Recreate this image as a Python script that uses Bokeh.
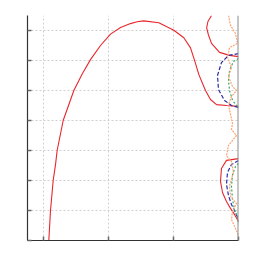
from bokeh.plotting import figure
from bokeh.models import Span, FixedTicker, Range1d
from bokeh.embed import file_html
from bokeh.resources import INLINE

# --- data ---
x_ticks = [0, 1, 2, 3]
y_ticks = [0, 1, 2, 3, 4, 5, 6, 7]

red_big_x = [0.082, 0.108, 0.149, 0.185, 0.21, 0.303, 0.467, 0.595, 0.723, 0.877, 1.031, 1.185, 1.338, 1.441,
             1.544, 1.774, 2.005, 2.159, 2.262, 2.323, 2.39, 2.492, 2.569, 2.662, 2.815, 3.0]
red_big_y = [0.0, 1.0, 2.0, 2.53, 3.0, 4.0, 5.0, 5.55, 6.03, 6.5, 6.88, 7.1, 7.23, 7.29,
             7.32, 7.26, 7.01, 6.76, 6.42, 6.01, 5.53, 5.0, 4.7, 4.53, 4.5, 4.47]

red_top_x = [2.585, 2.53, 2.51, 2.538, 2.585, 2.708, 2.862, 3.0]
red_top_y = [7.5, 7.3, 7.09, 6.85, 6.57, 6.27, 6.17, 6.13]

blue_up_x = [3.0, 2.846, 2.738, 2.677, 2.692, 2.785, 2.892, 3.0]
blue_up_y = [6.23, 6.17, 5.93, 5.5, 5.03, 4.67, 4.5, 4.43]

green_up_x = [3.0, 2.923, 2.862, 2.846, 2.862, 2.908, 3.0]
green_up_y = [6.07, 5.97, 5.67, 5.33, 5.0, 4.67, 4.43]

red_low_x = [3.0, 2.815, 2.738, 2.723, 2.754, 2.815, 2.877, 2.938, 3.0]
red_low_y = [2.73, 2.67, 2.4, 1.97, 1.6, 1.3, 1.07, 0.87, 0.63]

blue_low_x = [3.0, 2.892, 2.831, 2.815, 2.846, 2.892, 2.954, 3.0]
blue_low_y = [2.67, 2.53, 2.27, 1.87, 1.5, 1.2, 0.93, 0.7]

green_low_x = [3.0, 2.954, 2.908, 2.892, 2.908, 2.938, 2.985, 3.0]
green_low_y = [2.57, 2.47, 2.2, 1.8, 1.37, 1.03, 0.77, 0.6]

orange_x = [2.846, 2.877, 2.954, 2.985, 2.862, 2.831, 2.892, 2.846, 2.908, 2.969, 2.892, 2.846,
            2.877, 2.908, 2.892, 2.969, 2.846, 2.815, 2.892, 2.923, 2.862, 2.877, 2.969, 2.908,
            2.892, 2.954, 3.0]
orange_y = [7.5, 7.17, 6.9, 6.57, 6.43, 6.1, 5.77, 5.47, 5.13, 5.0, 4.8, 4.53,
            4.2, 3.9, 3.7, 3.5, 3.17, 2.83, 2.63, 2.27, 1.83, 1.47, 1.23, 0.97,
            0.7, 0.4, 0.17]

p = figure(width=248, height=250, output_backend="svg", toolbar_location=None,
           x_range=Range1d(-0.246, 3.0), y_range=Range1d(0, 7.5),
           min_border_left=27, min_border_right=10, min_border_top=15, min_border_bottom=10)
p.outline_line_color = None
p.background_fill_color = "white"

for ax in (p.xaxis, p.yaxis):
    ax.major_label_standoff = 0
    ax.major_tick_in = 4
    ax.major_tick_out = 0
    ax.minor_tick_in = 0
    ax.minor_tick_out = 0
    ax.axis_line_color = "#333333"
    ax.axis_line_width = 1.2
    ax.major_tick_line_color = "#666666"
    ax.major_tick_line_width = 1.5
p.xaxis.ticker = FixedTicker(ticks=x_ticks)
p.yaxis.ticker = FixedTicker(ticks=y_ticks)
p.xaxis.major_label_overrides = {t: "" for t in x_ticks}
p.yaxis.major_label_overrides = {t: "" for t in y_ticks}
p.xgrid.ticker = FixedTicker(ticks=x_ticks)
p.ygrid.ticker = FixedTicker(ticks=y_ticks)
for g in (p.xgrid, p.ygrid):
    g.grid_line_color = "#d0d0d0"
    g.grid_line_dash = "2 2"
    g.grid_line_width = 1

p.line(red_big_x, red_big_y, line_color="#e8262c", line_width=1.1)
p.line(red_top_x, red_top_y, line_color="#e8262c", line_width=1.1)
p.line(red_low_x, red_low_y, line_color="#e8262c", line_width=1.1)
p.line(blue_up_x, blue_up_y, line_color="#2b2ba8", line_width=1.2, line_dash="4 2")
p.line(blue_low_x, blue_low_y, line_color="#2b2ba8", line_width=1.2, line_dash="4 2")
p.line(green_up_x, green_up_y, line_color="#2ca86a", line_width=1.2, line_dash="2 2")
p.line(green_low_x, green_low_y, line_color="#2ca86a", line_width=1.2, line_dash="2 2")
p.line(orange_x, orange_y, line_color="#fca471", line_width=1.2, line_dash="2 1")

p.add_layout(Span(location=3.0, dimension="height", line_color="#8c8c8c", line_width=2))

open("out.html", "w").write(file_html(p, INLINE))
